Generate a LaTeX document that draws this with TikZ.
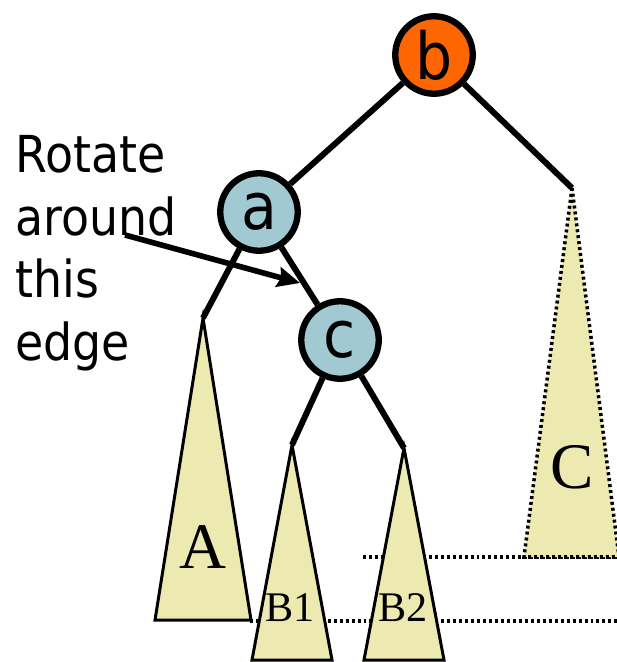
\documentclass[tikz,border=0pt]{standalone}
\usepackage{fontspec}
\setmainfont{Liberation Serif}
\newfontfamily\notefont[FakeStretch=0.9]{DejaVu Sans}
\usetikzlibrary{arrows.meta}
\definecolor{keyorange}{RGB}{255,102,0}
\definecolor{keyblue}{RGB}{160,201,210}
\definecolor{treeyellow}{RGB}{236,234,176}
\tikzset{
  vertex/.style={circle,draw,line width=3.6pt,minimum size=1.55cm,inner sep=0pt,
    font=\notefont\fontsize{37}{37}\selectfont},
  treeedge/.style={line width=3.4pt},
  subtree/.style={fill=treeyellow,draw,line width=1.7pt,line join=miter},
  levelline/.style={line width=2pt,dash pattern=on 1.7pt off 1.7pt},
}
\begin{document}
\begin{tikzpicture}[x=0.02cm,y=-0.02cm,>={Stealth[length=0.45cm,width=0.4cm,inset=0.06cm]}]
	\useasboundingbox (0,0) rectangle (617,662);
	% level lines behind the subtrees
	\draw[levelline] (363,557) -- (617,557);
	\draw[levelline] (250,621) -- (617,621);
	% subtrees
	\coordinate (topA) at (203,318);
	\coordinate (topB1) at (292,445);
	\coordinate (topB2) at (404,448);
	\coordinate (topC) at (572,188);
	\draw[subtree] (topA) -- (155,620) -- (251,620) -- cycle;
	\draw[subtree] (topB1) -- (252,660) -- (332,660) -- cycle;
	\draw[subtree] (topB2) -- (364,660) -- (444,660) -- cycle;
	\draw[subtree,levelline] (topC) -- (524,557) -- (619,557) -- cycle;
	\node[font=\fontsize{37}{37}\selectfont] (labA) at (203,547) {A};
	\node[font=\fontsize{24}{24}\selectfont] (labB1) at (290,608) {B1};
	\node[font=\fontsize{24}{24}\selectfont] (labB2) at (403,608) {B2};
	\node[font=\fontsize{37}{37}\selectfont] (labC) at (572,467) {C};
	% keys
	\node[vertex,fill=keyorange] (b) at (434,55) {b};
	\node[vertex,fill=keyblue] (a) at (259,212) {a};
	\node[vertex,fill=keyblue] (c) at (340,340) {c};
	\draw[treeedge] (b) -- (a);
	\draw[treeedge] (b) -- (topC);
	\draw[treeedge] (a) -- (topA);
	\draw[treeedge] (a) -- (c);
	\draw[treeedge] (c) -- (topB1);
	\draw[treeedge] (c) -- (topB2);
	% hint
	\node[anchor=north west,inner sep=0pt,align=left,
	  font=\notefont\fontsize{29}{35.7}\selectfont] (hint) at (15,135)
	  {Rotate\\around\\this\\edge};
	\coordinate (from) at (125,235);
	\coordinate (to) at (300,283);
	\draw[->,line width=3.2pt] (from) -- (to);
\end{tikzpicture}
\end{document}
